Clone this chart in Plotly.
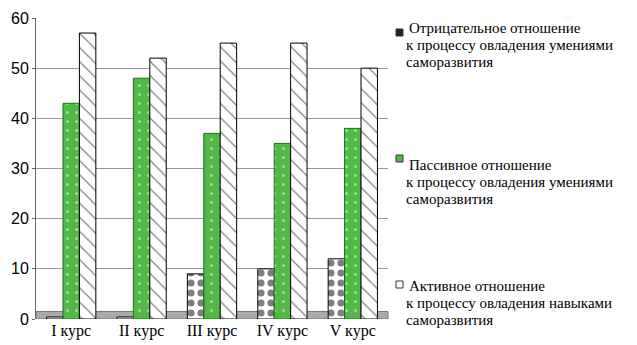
import plotly.graph_objects as go

categories = ["I курс", "II курс", "III курс", "IV курс", "V курс"]
negative = [0.4, 0.4, 9, 10, 12]
passive = [43, 48, 37, 35, 38]
active = [57, 52, 55, 55, 50]
legend_lines = [
    ["Отрицательное отношение", "к процессу овладения умениями", "саморазвития"],
    ["Пассивное отношение", "к процессу овладения умениями", "саморазвития"],
    ["Активное отношение", "к процессу овладения навыками", "саморазвития"],
]
y_ticks = [0, 10, 20, 30, 40, 50, 60]

SERIF = "Liberation Serif, DejaVu Serif, serif"
SANS = "Liberation Sans"
W, H = 637, 345
ML, MR, MT, MB = 28, 257, 10, 34
PW, PH = W - ML - MR, H - MT - MB


def px(x):
    return (x - ML) / PW


def py(y):
    return 1 - (y - MT) / PH


styles = [
    dict(color="white", line=dict(color="black", width=1),
         pattern=dict(shape=".", fgcolor="black", bgcolor="white",
                      size=10, solidity=0.4, fillmode="overlay")),
    dict(color="#52b946", line=dict(color="#1e6e1e", width=1),
         pattern=dict(shape=".", fgcolor="#e8ffe8", bgcolor="#52b946",
                      size=9, solidity=0.1, fillmode="overlay")),
    dict(color="white", line=dict(color="black", width=1),
         pattern=dict(shape="\\", fgcolor="black", bgcolor="white",
                      size=10, solidity=0.12, fillmode="overlay")),
]

fig = go.Figure()
for vals, lines, st in zip([negative, passive, active], legend_lines, styles):
    fig.add_trace(go.Bar(x=categories, y=vals, name=" ".join(lines),
                         marker=st, showlegend=False))

# grey floor strip behind the bars
fig.add_shape(type="rect", xref="paper", yref="y", x0=0, x1=1, y0=0, y1=1.5,
              fillcolor="#aaaaaa", line=dict(color="#777", width=1), layer="below")

# legend: icons + text lines
icon_tops = [21, 147, 273]
line_centers = [[20, 37, 54], [157, 174, 191], [278, 295, 312]]
icon_fill = ["#222222", "#52b946", "white"]
for k in range(3):
    fig.add_shape(type="rect", xref="paper", yref="paper",
                  x0=px(388), x1=px(395), y0=py(icon_tops[k] + 7), y1=py(icon_tops[k]),
                  fillcolor=icon_fill[k], line=dict(color="#333", width=1))
    for j, txt in enumerate(legend_lines[k]):
        fig.add_annotation(xref="paper", yref="paper",
                           x=px(399 if j == 0 else 396), y=py(line_centers[k][j]),
                           xanchor="left", yanchor="middle", showarrow=False,
                           text=txt, font=dict(family=SERIF, size=15, color="black"))

fig.update_layout(
    width=W, height=H,
    margin=dict(l=ML, r=MR, t=MT, b=MB),
    paper_bgcolor="white", plot_bgcolor="white",
    font=dict(family=SERIF, color="black"),
    barmode="group", bargap=0.3, bargroupgap=0,
    showlegend=False,
    xaxis=dict(tickfont=dict(family=SERIF, size=16, color="black"),
               showline=False, showgrid=False,
               ticks="", ticklen=0),
    yaxis=dict(range=[0, 60], tickvals=y_ticks, automargin=False,
               tickfont=dict(family=SANS, size=16, color="black"),
               showgrid=True, gridcolor="#999", gridwidth=1,
               showline=True, linecolor="#666", ticks="outside",
               ticklen=3, tickcolor="#666", zeroline=False),
)

fig.write_html("out.html")
